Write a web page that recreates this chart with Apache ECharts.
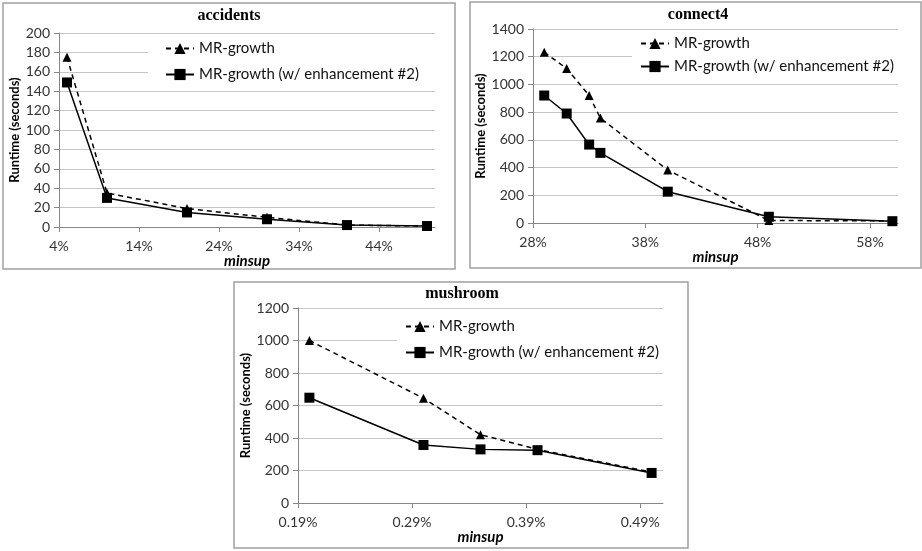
<!DOCTYPE html>
<html><head><meta charset="utf-8">
<script src="https://cdn.jsdelivr.net/npm/echarts@6/dist/echarts.min.js"></script>
<style>html,body{margin:0;padding:0;background:#fff}#c{width:922px;height:551px}</style>
</head><body><div id="c"></div>
<script>
// ---- data ----
const seriesNames = ['MR-growth', 'MR-growth (w/ enhancement #2)'];
const panelTitles = ['accidents', 'connect4', 'mushroom'];

const accX = [5, 10, 20, 30, 40, 50];
const accMR = [175, 35, 19, 10, 2, 1];
const accEnh = [149, 30, 15, 8, 2, 1];
const accXTicks = [4, 14, 24, 34, 44];

const conX = [29, 31, 33, 34, 40, 49, 60];
const conMR = [1232, 1115, 920, 757, 382, 18, 15];
const conEnh = [920, 790, 566, 506, 226, 45, 13];
const conXTicks = [28, 38, 48, 58];

const musX = [0.20, 0.30, 0.35, 0.40, 0.50];
const musMR = [1000, 645, 420, 330, 190];
const musEnh = [648, 357, 330, 325, 185];
const musXTicks = [0.19, 0.29, 0.39, 0.49];

// ---- helpers ----
const F = 'Lato, "Liberation Sans", sans-serif';
const pair = (xs, ys) => xs.map((x, i) => [x, ys[i]]);

const panels = [
  {x: accX, a: accMR, b: accEnh, ticks: accXTicks, xmin: 4, xmax: 51, xint: 10, ymax: 200, yint: 20,
   grid: {left: 59, top: 33, width: 376, height: 194}, fmt: v => v + '%', yGap: 36, xGap: 23,
   legend: {left: 148, top: 37, padding: [4, 20, 6, 17], itemGap: 11}},
  {x: conX, a: conMR, b: conEnh, ticks: conXTicks, xmin: 28, xmax: 60.5, xint: 10, ymax: 1400, yint: 200,
   grid: {left: 533, top: 29, width: 365, height: 194}, fmt: v => v + '%', yGap: 45, xGap: 25,
   legend: {left: 632, top: 32, padding: [4, 20, 4, 8], itemGap: 8}},
  {x: musX, a: musMR, b: musEnh, ticks: musXTicks, xmin: 0.19, xmax: 0.51, xint: 0.1, ymax: 1200, yint: 200,
   grid: {left: 298, top: 308, width: 365, height: 195}, fmt: v => v.toFixed(2) + '%', yGap: 45, xGap: 26,
   legend: {left: 397, top: 315, padding: [4, 20, 4, 8], itemGap: 11}}
];

const grids = [], xAxes = [], yAxes = [], series = [], legends = [];
panels.forEach((p, i) => {
  grids.push(Object.assign({containLabel: false}, p.grid));
  xAxes.push({
    type: 'value', gridIndex: i, min: p.xmin, max: p.xmax, interval: p.xint,
    name: 'minsup', nameLocation: 'middle', nameGap: p.xGap,
    nameTextStyle: {fontFamily: F, fontWeight: 'bold', fontStyle: 'italic', fontSize: 15, color: '#000'},
    axisLine: {show: true, lineStyle: {color: '#868686', width: 1}},
    axisTick: {show: true, length: 5, lineStyle: {color: '#868686'}, customValues: p.ticks},
    axisLabel: {color: '#333', fontFamily: F, fontSize: 14, margin: 12, formatter: p.fmt, customValues: p.ticks},
    splitLine: {show: false}
  });
  yAxes.push({
    type: 'value', gridIndex: i, min: 0, max: p.ymax, interval: p.yint,
    name: 'Runtime (seconds)', nameLocation: 'middle', nameGap: p.yGap,
    nameTextStyle: {fontFamily: F, fontWeight: 'bold', fontSize: 13, color: '#000'},
    axisLine: {show: true, lineStyle: {color: '#868686', width: 1}},
    axisTick: {show: true, length: 5, lineStyle: {color: '#868686'}},
    axisLabel: {color: '#333', fontFamily: F, fontSize: 14, margin: 9, formatter: v => String(v)},
    splitLine: {show: true, lineStyle: {color: '#c6c6c6', width: 1}}
  });
  series.push({
    name: seriesNames[0], type: 'line', xAxisIndex: i, yAxisIndex: i, data: pair(p.x, p.a),
    symbol: 'triangle', symbolSize: 9, z: 3,
    lineStyle: {color: '#000', width: 1.5, type: [5, 4]}, itemStyle: {color: '#000'}
  });
  series.push({
    name: seriesNames[1], type: 'line', xAxisIndex: i, yAxisIndex: i, data: pair(p.x, p.b),
    symbol: 'rect', symbolSize: 10, z: 4,
    lineStyle: {color: '#000', width: 1.5}, itemStyle: {color: '#000'}
  });
  legends.push(Object.assign({
    orient: 'vertical', data: seriesNames, backgroundColor: '#fff', itemWidth: 28, itemHeight: 14,
    selectedMode: false, textStyle: {fontFamily: F, fontSize: 15, color: '#111'}, z: 2
  }, p.legend));
});

const boxes = [[3, 3, 452, 266], [470, 2, 451, 266], [234, 282, 454, 266]];
const titlePos = [[229, 16], [698, 15], [462, 294]];
const graphics = [];
boxes.forEach(b => graphics.push({type: 'rect', shape: {x: b[0], y: b[1], width: b[2], height: b[3]},
  style: {fill: 'none', stroke: '#a0a0a0', lineWidth: 1.5}, z: 0, silent: true}));
titlePos.forEach((t, i) => graphics.push({type: 'text', x: t[0], y: t[1],
  style: {text: panelTitles[i], fill: '#000', font: 'bold 16px "Liberation Serif", serif', textAlign: 'center', textVerticalAlign: 'middle'}}));

const chart = echarts.init(document.getElementById('c'), null, {renderer: 'canvas'});
chart.setOption({
  animation: false, backgroundColor: '#fff',
  grid: grids, xAxis: xAxes, yAxis: yAxes, series: series, legend: legends, graphic: graphics
});
</script></body></html>
